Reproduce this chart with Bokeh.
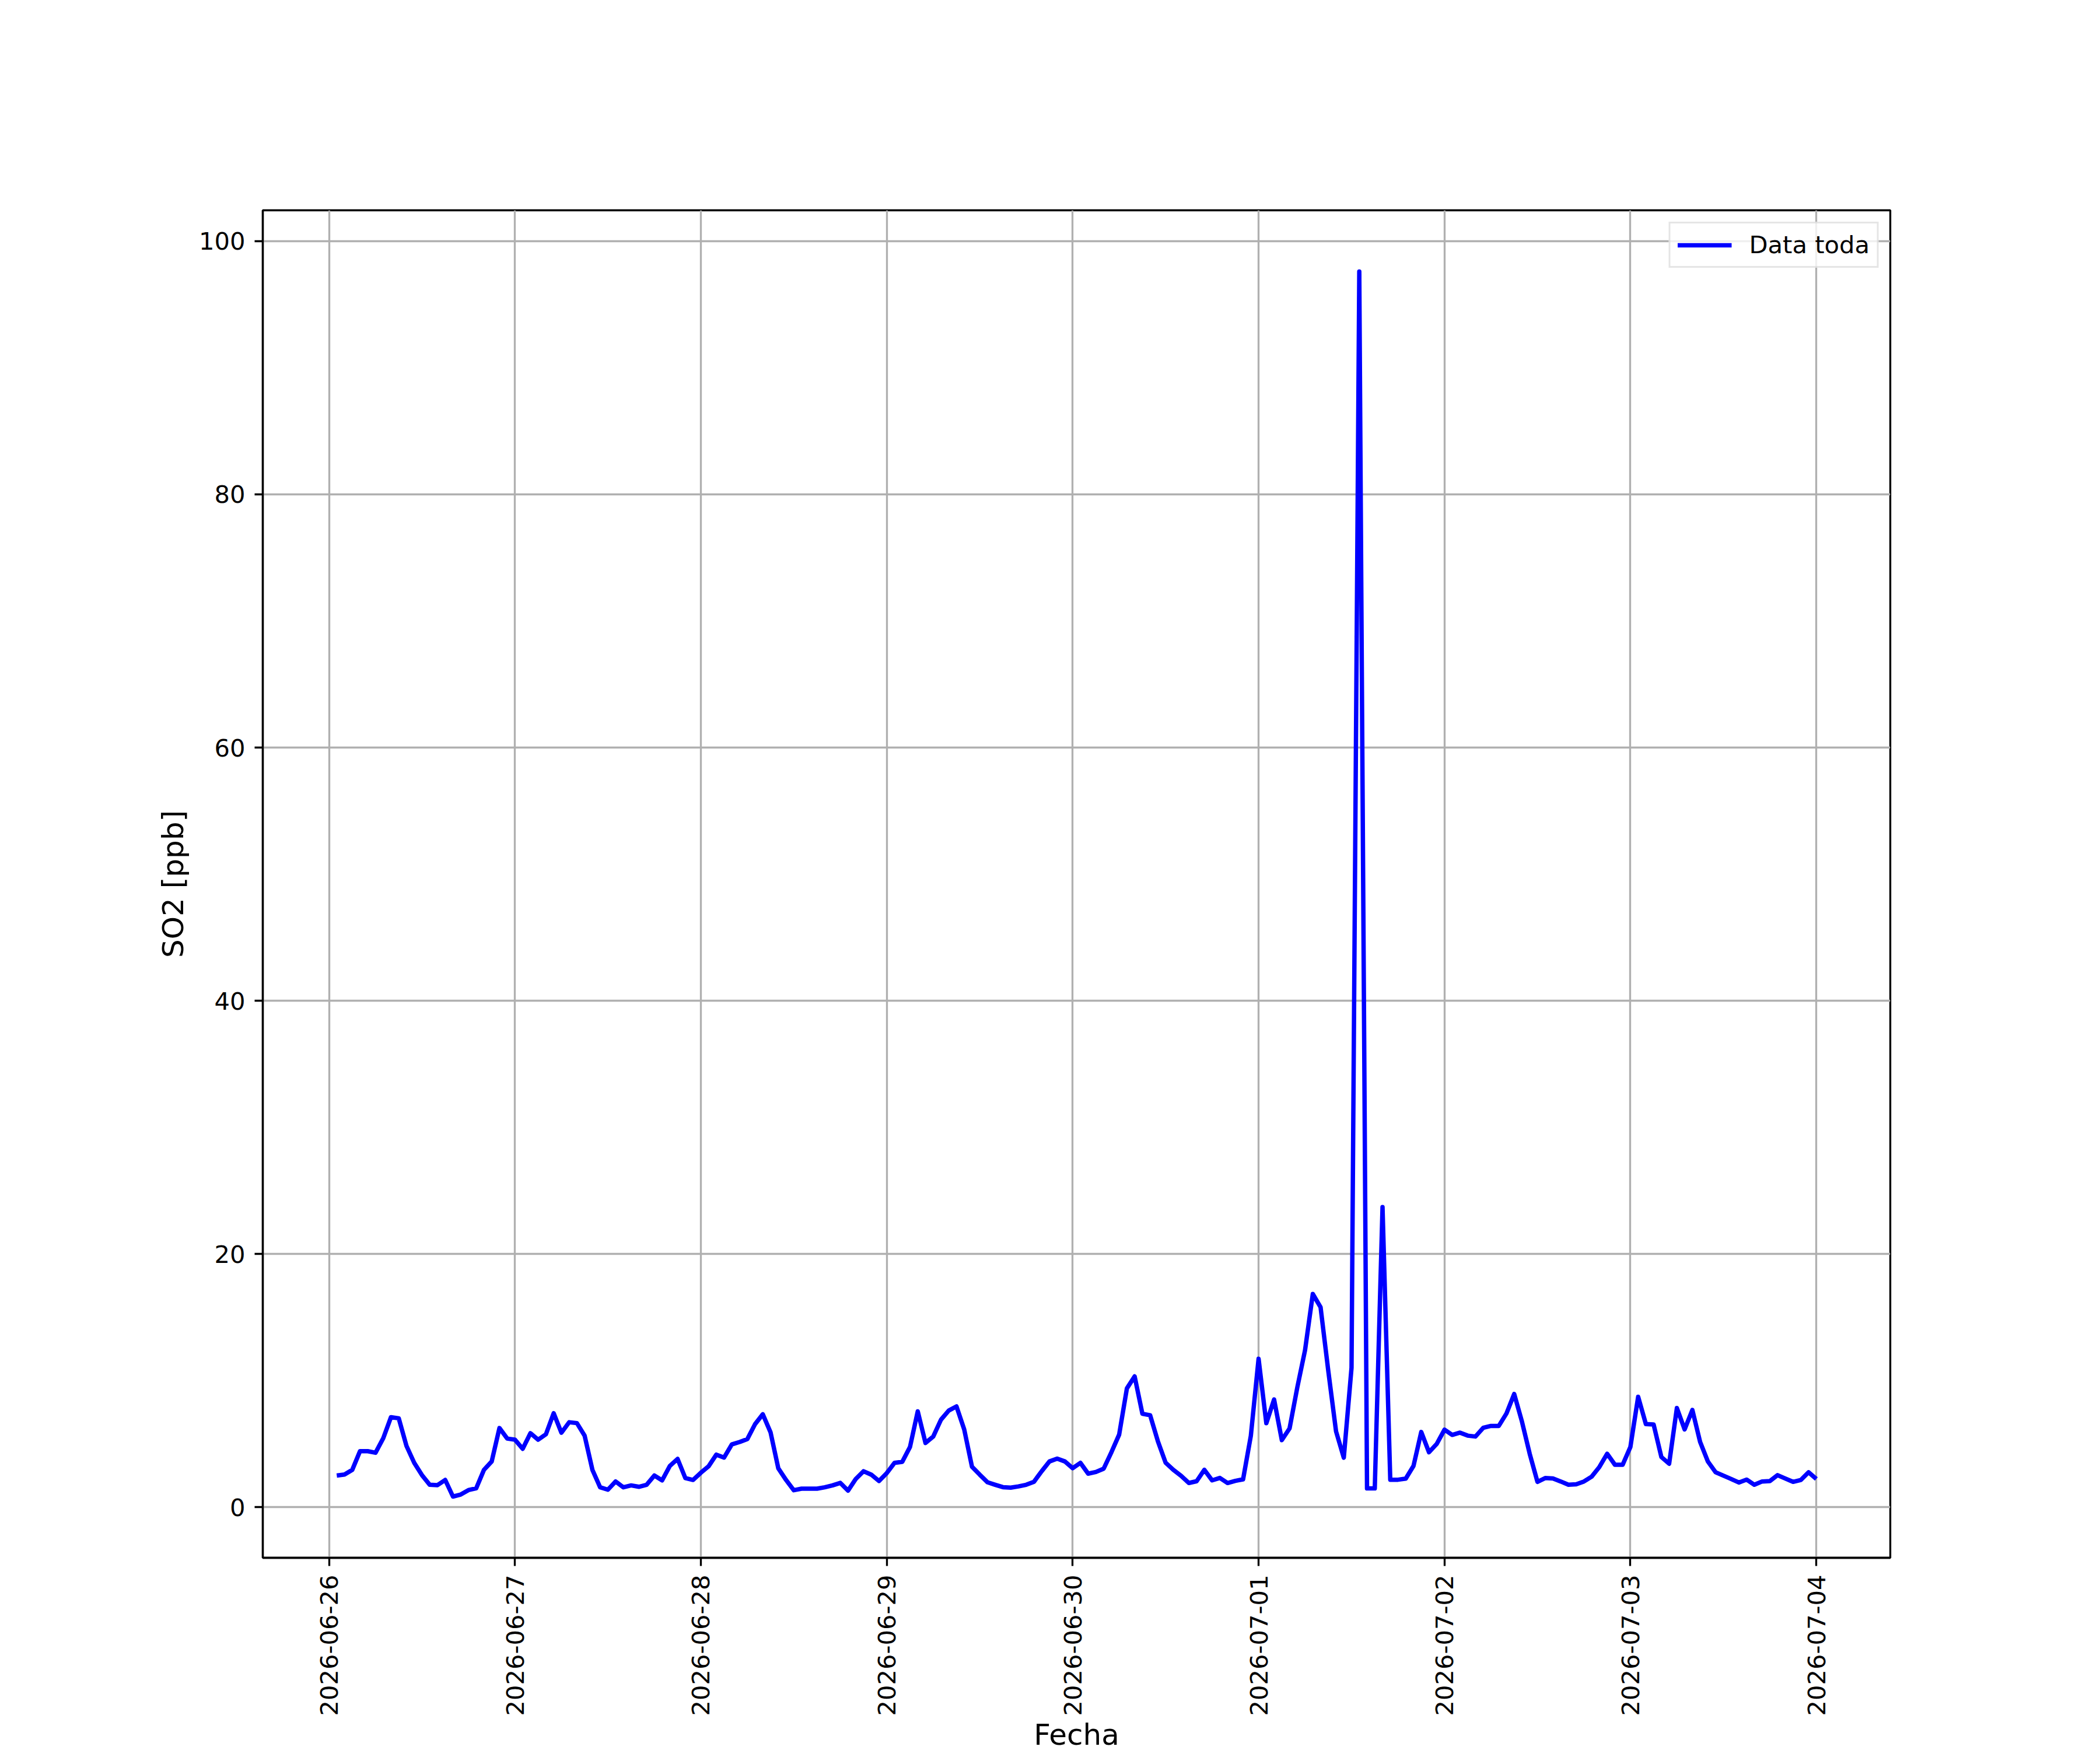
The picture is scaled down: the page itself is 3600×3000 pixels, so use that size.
import math
import pandas as pd
from bokeh.plotting import figure
from bokeh.models import (Range1d, FixedTicker, DatetimeTickFormatter,
                          Legend, LegendItem, ColumnDataSource)
from bokeh.embed import file_html
from bokeh.resources import INLINE

# ---------------- data ----------------
series_name = "Data toda"
x_label = "Fecha"
y_label = "SO2 [ppb]"
series_start = "2026-06-26 01:00"
series_end = "2026-07-04 00:00"

so2_0626 = [2.50, 2.58, 2.95, 4.42, 4.42, 4.30, 5.45, 7.11, 7.02, 4.84, 3.50, 2.53,
            1.77, 1.74, 2.15, 0.84, 1.00, 1.35, 1.49, 2.95, 3.61, 6.25, 5.42]
so2_0627 = [5.33, 4.61, 5.84, 5.33, 5.76, 7.42, 5.88, 6.71, 6.64, 5.64, 2.95, 1.57,
            1.38, 2.03, 1.57, 1.72, 1.61, 1.77, 2.50, 2.12, 3.26, 3.81, 2.30, 2.15]
so2_0628 = [2.72, 3.23, 4.15, 3.92, 4.96, 5.15, 5.38, 6.56, 7.34, 5.91, 3.07, 2.15,
            1.34, 1.46, 1.46, 1.46, 1.57, 1.72, 1.92, 1.31, 2.23, 2.84, 2.57, 2.07]
so2_0629 = [2.69, 3.50, 3.58, 4.76, 7.57, 5.07, 5.58, 6.91, 7.63, 7.96, 6.14, 3.20,
            2.57, 1.97, 1.77, 1.58, 1.54, 1.64, 1.77, 2.00, 2.84, 3.61, 3.84, 3.61]
so2_0630 = [3.08, 3.50, 2.65, 2.78, 3.04, 4.34, 5.73, 9.38, 10.33, 7.38, 7.26, 5.21,
            3.51, 2.95, 2.48, 1.91, 2.05, 2.95, 2.12, 2.31, 1.91, 2.08, 2.20, 5.64]
so2_0701 = [11.72, 6.63, 8.51, 5.30, 6.22, 9.46, 12.41, 16.84, 15.80, 10.76, 5.99, 3.91,
            11.02, 97.60, 1.48, 1.48, 23.70, 2.17, 2.17, 2.26, 3.26, 5.94, 4.34, 5.00]
so2_0702 = [6.12, 5.71, 5.89, 5.65, 5.58, 6.27, 6.42, 6.41, 7.40, 8.94, 6.76, 4.22,
            2.00, 2.30, 2.27, 2.03, 1.77, 1.81, 2.03, 2.41, 3.18, 4.22, 3.35, 3.35]
so2_0703 = [4.76, 8.72, 6.56, 6.53, 3.96, 3.43, 7.83, 6.14, 7.68, 5.15, 3.61, 2.76,
            2.49, 2.23, 1.95, 2.18, 1.77, 2.03, 2.06, 2.53, 2.26, 2.00, 2.15, 2.76]
so2_0704 = [2.23]

x_tick_labels = ["2026-06-26", "2026-06-27", "2026-06-28", "2026-06-29", "2026-06-30",
                 "2026-07-01", "2026-07-02", "2026-07-03", "2026-07-04"]
y_ticks = [0, 20, 40, 60, 80, 100]

values = (so2_0626 + so2_0627 + so2_0628 + so2_0629 + so2_0630 + so2_0701
          + so2_0702 + so2_0703 + so2_0704)
times = pd.date_range(series_start, series_end, freq="h")
assert len(times) == len(values)

# ---------------- geometry / style ----------------
FRAME_W, FRAME_H = 2790, 2310
B_LEFT, B_RIGHT, B_TOP, B_BOTTOM = 450, 344, 360, 322
FONT = "DejaVu Sans"
TICK_FS = "41.67px"
LABEL_FS = "50px"
LW = 3.33

def to_ms(t):
    return pd.Timestamp(t).value / 1e6

t_ms = [to_ms(t) for t in times]
span_x = t_ms[-1] - t_ms[0]
x_start, x_end = t_ms[0] - 0.05 * span_x, t_ms[-1] + 0.05 * span_x
vmin, vmax = min(values), max(values)
span_y = vmax - vmin
y_start, y_end = vmin - 0.05 * span_y, vmax + 0.05 * span_y

p = figure(frame_width=FRAME_W, frame_height=FRAME_H,
           min_border_left=B_LEFT, min_border_right=B_RIGHT,
           min_border_top=B_TOP, min_border_bottom=B_BOTTOM,
           x_axis_type="datetime", output_backend="svg", toolbar_location=None,
           x_range=Range1d(x_start, x_end), y_range=Range1d(y_start, y_end))

p.background_fill_color = "white"
p.border_fill_color = "white"
p.outline_line_color = "black"
p.outline_line_width = LW

src = ColumnDataSource(dict(t=t_ms, v=values))
r = p.line("t", "v", source=src, line_color="#0000ff", line_width=7.5,
           line_join="round")

# axes
for ax in (p.xaxis[0], p.yaxis[0]):
    ax.axis_line_color = "black"
    ax.axis_line_width = LW
    ax.major_tick_line_color = "black"
    ax.major_tick_line_width = LW
    ax.major_tick_out = 14
    ax.major_tick_in = 0
    ax.minor_tick_line_color = None
    ax.major_label_text_font = FONT
    ax.major_label_text_font_size = TICK_FS
    ax.major_label_text_color = "black"
    ax.axis_label_text_font = FONT
    ax.axis_label_text_font_size = LABEL_FS
    ax.axis_label_text_font_style = "normal"
    ax.axis_label_text_color = "black"

p.xaxis.ticker = FixedTicker(ticks=[to_ms(d) for d in x_tick_labels])
p.xaxis.formatter = DatetimeTickFormatter(days="%Y-%m-%d", months="%Y-%m-%d",
                                          hours="%Y-%m-%d")
p.xaxis.major_label_orientation = math.pi / 2
p.xaxis.major_label_standoff = 15
p.xaxis.axis_label = x_label
p.xaxis.axis_label_standoff = 0

p.yaxis.ticker = FixedTicker(ticks=y_ticks)
p.yaxis.major_label_standoff = 16
p.yaxis.axis_label = y_label
p.yaxis.axis_label_standoff = 12

for g in (p.xgrid[0], p.ygrid[0]):
    g.grid_line_color = "#b0b0b0"
    g.grid_line_width = LW
p.xgrid.ticker = p.xaxis.ticker
p.ygrid.ticker = p.yaxis.ticker

legend = Legend(items=[LegendItem(label=series_name, renderers=[r])],
                location="top_right", margin=20, padding=12,
                glyph_width=93, glyph_height=44, label_height=44,
                label_standoff=30, label_text_font=FONT,
                label_text_font_size=TICK_FS, label_text_color="black",
                border_line_color="#cccccc", border_line_width=LW,
                background_fill_color="white", background_fill_alpha=0.8)
p.add_layout(legend)

open("out.html", "w").write(file_html(p, INLINE))
